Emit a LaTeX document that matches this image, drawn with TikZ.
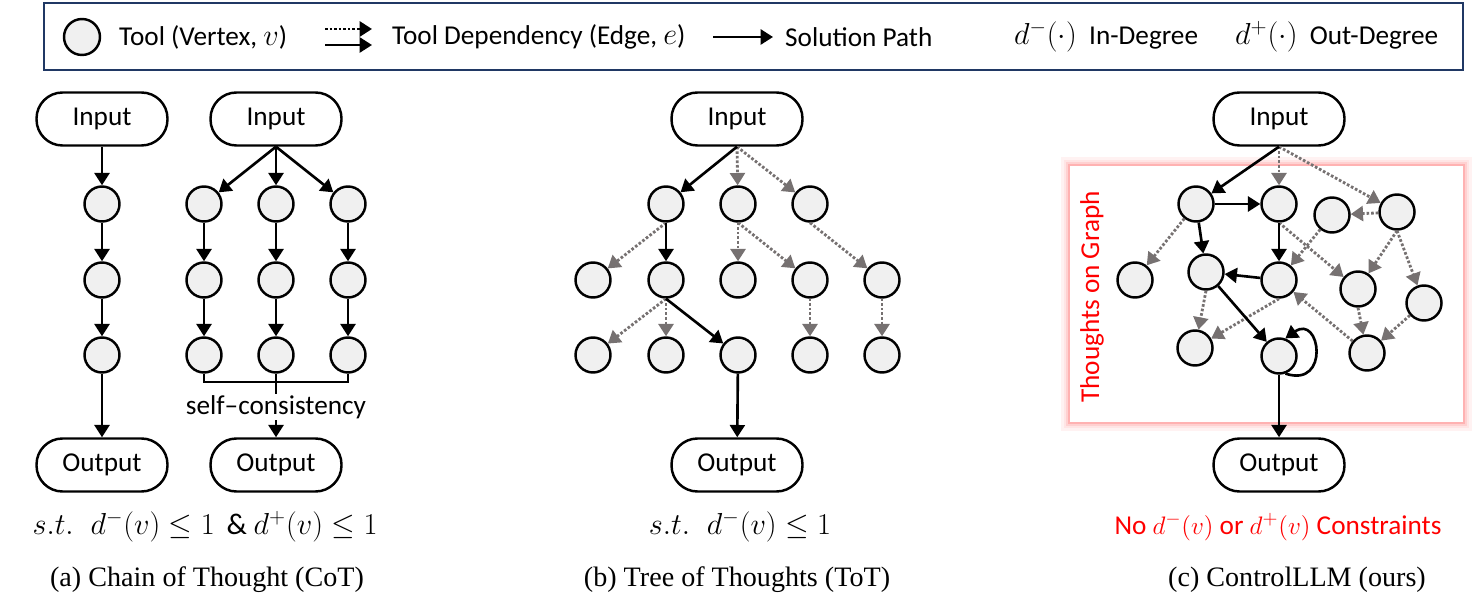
\documentclass[tikz,border=0pt]{standalone}
\usepackage{fontspec}
\setmainfont{Carlito}
\newfontfamily\capfont{Liberation Serif}
\usetikzlibrary{arrows.meta}
\definecolor{toolgray}{RGB}{240,240,240}
\definecolor{depgray}{RGB}{118,113,113}
\definecolor{legendblue}{RGB}{32,56,100}

\begin{document}
\begin{tikzpicture}
  [x=0.02cm,y=-0.02cm,
   every node/.style={font=\fontsize{15.5}{18}\selectfont},
   tool/.style={circle,draw,line width=1.4pt,fill=toolgray,minimum size=0.7cm,inner sep=0pt},
   io/.style={draw,line width=1.4pt,rounded corners=0.52cm,minimum width=2.62cm,minimum height=1.06cm},
   sol/.style={line width=1.5pt,-{Triangle[length=7pt,width=8.5pt]}},
   dep/.style={line width=1.6pt,depgray,dash pattern=on 1.5pt off 1.1pt,-{Triangle[length=7pt,width=8.5pt]}},
   mathline/.style={font=\fontsize{17}{20}\selectfont},
   caption/.style={font=\capfont\fontsize{16}{19}\selectfont}]
  \useasboundingbox (0,0) rectangle (1479,614);

  % legend
  \draw[legendblue,line width=1.2pt] (44,3) rectangle (1463,70);
  \node[tool,minimum size=0.72cm] (lv) at (82,37) {};
  \node[anchor=west] (lt1) at (113,37) {Tool (Vertex, {\fontsize{17}{20}\selectfont$v$})};
  \coordinate (ld1) at (325,29);
  \coordinate (ld2) at (372,29);
  \coordinate (ls1) at (325,45);
  \coordinate (ls2) at (372,45);
  \draw[dep,black] (ld1) -- (ld2);
  \draw[sol] (ls1) -- (ls2);
  \node[anchor=west] (lt2) at (386,37) {Tool Dependency (Edge, {\fontsize{17}{20}\selectfont$e$})};
  \coordinate (lp1) at (713,37);
  \coordinate (lp2) at (773,37);
  \draw[sol] (lp1) -- (lp2);
  \node[anchor=west] (lt3) at (779,37) {Solution Path};
  \node[anchor=west] (lt4) at (1008,37) {{\fontsize{18}{20}\selectfont$d^{-}(\cdot)$}\ \ In-Degree};
  \node[anchor=west] (lt5) at (1229,37) {{\fontsize{18}{20}\selectfont$d^{+}(\cdot)$}\ \ Out-Degree};

  % (a) chain of thought
  \node[io] (ia) at (102,119) {Input};
  \node[tool] (a1) at (102,204) {};
  \node[tool] (a2) at (102,280) {};
  \node[tool] (a3) at (102,355) {};
  \node[io] (oa) at (102,465) {Output};
  \draw[sol] (ia) -- (a1);
  \foreach \from/\to in {a1/a2,a2/a3,a3/oa}
    \draw[sol] (\from) -- (\to);

  \node[io] (ib) at (276,119) {Input};
  \node[tool] (s1) at (204,204) {};
  \node[tool] (s2) at (276,204) {};
  \node[tool] (s3) at (348,204) {};
  \node[tool] (s4) at (204,280) {};
  \node[tool] (s5) at (276,280) {};
  \node[tool] (s6) at (348,280) {};
  \node[tool] (s7) at (204,355) {};
  \node[tool] (s8) at (276,355) {};
  \node[tool] (s9) at (348,355) {};
  \node[io] (ob) at (276,465) {Output};
  \foreach \to in {s1,s2,s3}
    \draw[sol] (ib.south) -- (\to);
  \foreach \from/\to in {s1/s4,s2/s5,s3/s6,s4/s7,s5/s8,s6/s9}
    \draw[sol] (\from) -- (\to);
  \draw[line width=1.4pt] (s7.south) |- (276,382) -| (s9.south);
  \draw[sol] (s8) -- (ob);
  \node[fill=white,inner sep=1pt] (sc) at (276,407) {self--consistency};

  % (b) tree of thoughts
  \node[io] (it) at (737,119) {Input};
  \node[tool] (t1) at (666,204) {};
  \node[tool] (t2) at (738,204) {};
  \node[tool] (t3) at (810,204) {};
  \node[tool] (t4) at (593,280) {};
  \node[tool] (t5) at (666,280) {};
  \node[tool] (t6) at (738,280) {};
  \node[tool] (t7) at (810,280) {};
  \node[tool] (t8) at (882,280) {};
  \node[tool] (t9) at (593,355) {};
  \node[tool] (t10) at (666,355) {};
  \node[tool] (t11) at (738,355) {};
  \node[tool] (t12) at (810,355) {};
  \node[tool] (t13) at (882,355) {};
  \node[io] (ot) at (737,465) {Output};
  \foreach \from/\to in {it/t2,it/t3,t1/t4,t2/t6,t2/t7,t3/t8,t5/t9,t5/t10,t7/t12,t8/t13}
    \draw[dep] (\from.south) -- (\to);
  \foreach \from/\to in {it/t1,t1/t5,t5/t11}
    \draw[sol] (\from.south) -- (\to);
  \draw[sol] (t11) -- (ot);

  % (c) controlllm
  \foreach \w/\c in {10pt/5,7pt/10,4.5pt/18,2pt/30}
    \draw[red!\c,line width=\w] (1070,166) rectangle (1463,422);
  \fill[white] (1070,166) rectangle (1463,422);
  \node[red,rotate=90] (tg) at (1092,297) {Thoughts on Graph};

  \node[io] (ig) at (1279,119) {Input};
  \node[tool] (g1) at (1196,204) {};
  \node[tool] (g2) at (1279,204) {};
  \node[tool] (g3) at (1332,215) {};
  \node[tool] (g4) at (1397,212) {};
  \node[tool] (g5) at (1135,280) {};
  \node[tool] (g6) at (1206,272) {};
  \node[tool] (g7) at (1279,280) {};
  \node[tool] (g8) at (1358,289) {};
  \node[tool] (g9) at (1424,303) {};
  \node[tool] (g10) at (1195,348) {};
  \node[tool] (g11) at (1279,356) {};
  \node[tool] (g12) at (1367,353) {};
  \node[io] (og) at (1279,465) {Output};

  \foreach \from/\to in {ig.south/g2,ig.south/g4,g1/g5,g2.south/g8,g4/g3,g4.south/g8,g4.south/g9,g3/g7,g7.south/g10,g6.south/g10,g12/g7,g8.south/g12,g9/g12}
    \draw[dep] (\from) -- (\to);
  \foreach \from/\to in {ig.south/g1,g1/g2,g1/g6,g2/g7,g7/g6,g6/g11,g11/og}
    \draw[sol] (\from) -- (\to);
  \draw[sol] (g11.-70) .. controls +(45,15) and +(35,-25) .. (g11.70);

  % constraints
  \node[mathline] (ca) at (205,527) {$s.t.\;\; d^{-}(v)\leq 1\ \,\&\ d^{+}(v)\leq 1$};
  \node[mathline] (cb) at (740,527) {$s.t.\;\; d^{-}(v)\leq 1$};
  \node[red] (cc) at (1278,527) {No $d^{-}(v)$ or $d^{+}(v)$ Constraints};

  % captions
  \node[caption] (pa) at (207,580) {(a) Chain of Thought (CoT)};
  \node[caption] (pb) at (737,580) {(b) Tree of Thoughts (ToT)};
  \node[caption] (pc) at (1297,580) {(c) ControlLLM (ours)};
\end{tikzpicture}
\end{document}
